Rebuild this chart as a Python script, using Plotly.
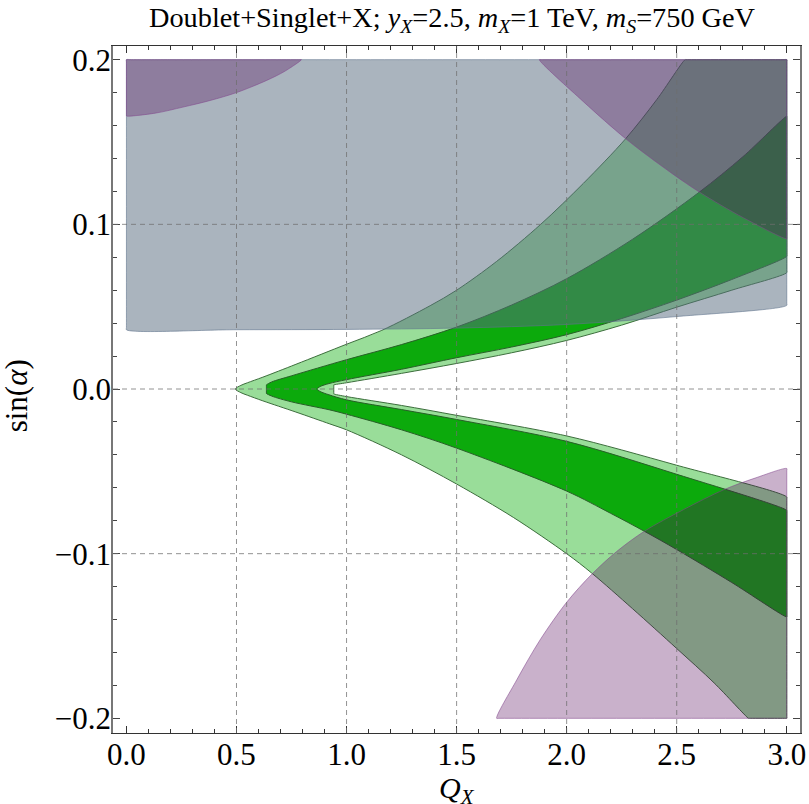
import plotly.graph_objects as go

# ---------------- data ----------------
X_MIN, X_MAX = 0.0, 3.0
Y_MIN, Y_MAX = -0.2, 0.2

# 2-sigma (light green) region boundaries
outer_upper_x = [0.495, 0.52, 0.55, 0.62, 0.77, 1.0, 1.16, 1.38, 1.5, 1.682, 1.882, 2.076, 2.268, 2.409, 2.538]
outer_upper_y = [0.0, 0.0022, 0.0038, 0.0072, 0.0150, 0.0272, 0.0356, 0.0506, 0.060, 0.0775, 0.100, 0.1249, 0.152, 0.1757, 0.2]
outer_lower_x = [0.495, 0.52, 0.55, 0.62, 0.77, 0.924, 1.0, 1.25, 1.5, 1.758, 2.0, 2.114, 2.3, 2.5, 2.67, 2.826]
outer_lower_y = [0.0, -0.0022, -0.0038, -0.0072, -0.0140, -0.0212, -0.0248, -0.040, -0.0577, -0.0780, -0.1000, -0.1118, -0.1335, -0.1576, -0.1785, -0.2]
light_inner_upper_x = [0.942, 1.0, 1.25, 1.5, 1.75, 2.0, 2.25, 2.5, 2.75, 3.0]
light_inner_upper_y = [0.0025, 0.0038, 0.0095, 0.0155, 0.022, 0.0295, 0.0388, 0.0497, 0.0600, 0.0707]
light_inner_lower_x = [0.942, 1.0, 1.25, 1.5, 2.0, 2.5, 3.0]
light_inner_lower_y = [-0.003, -0.0046, -0.010, -0.016, -0.0285, -0.0463, -0.0656]

# 1-sigma (dark green) region boundaries
dark_outer_upper_x = [0.636, 0.66, 0.75, 1.0, 1.25, 1.5, 1.75, 2.0, 2.3, 2.603, 2.8, 3.0]
dark_outer_upper_y = [0.0025, 0.0043, 0.0080, 0.0178, 0.027, 0.0376, 0.051, 0.067, 0.091, 0.1196, 0.141, 0.1656]
dark_outer_lower_x = [0.636, 0.66, 0.75, 0.924, 1.0, 1.25, 1.5, 2.0, 2.2, 2.353, 2.5, 2.75, 3.0]
dark_outer_lower_y = [-0.0027, -0.0043, -0.0078, -0.0127, -0.0153, -0.0248, -0.0359, -0.062, -0.0755, -0.0864, -0.0975, -0.1175, -0.1384]
dark_inner_upper_x = [0.866, 0.88, 0.92, 1.0, 1.25, 1.5, 1.75, 2.0, 2.25, 2.5, 2.75, 3.0]
dark_inner_upper_y = [0.0, 0.0015, 0.0033, 0.0057, 0.012, 0.019, 0.0255, 0.033, 0.0428, 0.054, 0.0665, 0.0806]
dark_inner_lower_x = [0.866, 0.88, 0.92, 1.0, 1.25, 1.5, 2.0, 2.5, 3.0]
dark_inner_lower_y = [0.0, -0.0015, -0.0035, -0.0066, -0.0125, -0.0185, -0.0318, -0.0518, -0.0737]

# grey-blue excluded region (lower edge)
grey_edge_x = [0.0, 0.5, 1.0, 1.5, 2.0, 2.5, 3.0]
grey_edge_y = [0.036, 0.036, 0.0362, 0.037, 0.0392, 0.044, 0.0508]

# purple excluded regions
purple_tl_x = [0.0, 0.13, 0.257, 0.38, 0.5, 0.637, 0.72, 0.795]
purple_tl_y = [0.1658, 0.1675, 0.1712, 0.1752, 0.1800, 0.1874, 0.193, 0.2]
purple_tr_x = [1.876, 2.076, 2.268, 2.439, 2.603, 2.803, 3.0]
purple_tr_y = [0.2, 0.1745, 0.152, 0.1347, 0.1196, 0.104, 0.0913]
purple_bot_x = [1.682, 1.773, 1.879, 2.0, 2.114, 2.227, 2.353, 2.53, 2.715, 2.856, 3.0]
purple_bot_y = [-0.2, -0.1767, -0.1524, -0.1295, -0.1125, -0.0987, -0.0864, -0.0733, -0.0611, -0.0541, -0.0483]

x_ticks = [0.0, 0.5, 1.0, 1.5, 2.0, 2.5, 3.0]
y_ticks = [-0.2, -0.1, 0.0, 0.1, 0.2]
x_grid = [0.5, 1.0, 1.5, 2.0, 2.5]
y_grid = [-0.1, 0.0, 0.1]


# ---------------- polygon construction ----------------
def pts(xs, ys):
    return list(zip(xs, ys))


def guards(a, b, eps=0.008):
    # two helper points on a straight clip edge so the spline keeps the edge straight
    return [(a[0] + eps * (b[0] - a[0]), a[1] + eps * (b[1] - a[1])),
            (b[0] - eps * (b[0] - a[0]), b[1] - eps * (b[1] - a[1]))]


def path(pieces):
    out = []
    for pc in pieces:
        if out and out[-1] != pc[0]:
            out += guards(out[-1], pc[0])
        out += [p for p in pc if not out or p != out[-1]]
    if out[-1] != out[0]:
        out += guards(out[-1], out[0]) + [out[0]]
    return [p[0] for p in out], [p[1] for p in out]


light_x, light_y = path([
    pts(outer_upper_x, outer_upper_y),
    [(X_MAX, Y_MAX)],
    pts(light_inner_upper_x, light_inner_upper_y)[::-1],
    pts(light_inner_lower_x, light_inner_lower_y),
    [(X_MAX, Y_MIN)],
    pts(outer_lower_x, outer_lower_y)[::-1],
])
dark_x, dark_y = path([
    pts(dark_outer_upper_x, dark_outer_upper_y),
    pts(dark_inner_upper_x, dark_inner_upper_y)[::-1],
    pts(dark_inner_lower_x, dark_inner_lower_y),
    pts(dark_outer_lower_x, dark_outer_lower_y)[::-1],
])
grey_x, grey_y = path([pts(grey_edge_x, grey_edge_y), [(X_MAX, Y_MAX)], [(X_MIN, Y_MAX)]])
ptl_x, ptl_y = path([pts(purple_tl_x, purple_tl_y), [(X_MIN, Y_MAX)]])
ptr_x, ptr_y = path([pts(purple_tr_x, purple_tr_y), [(X_MAX, Y_MAX)]])
pb_x, pb_y = path([pts(purple_bot_x, purple_bot_y), [(X_MAX, Y_MIN)]])

fig = go.Figure()


def poly(xs, ys, fill, line, width=1.0):
    fig.add_trace(go.Scatter(x=xs, y=ys, mode="lines", fill="toself",
                             fillcolor=fill, line=dict(color=line, width=width, shape="spline", smoothing=0.9),
                             hoverinfo="skip", showlegend=False))


poly(light_x, light_y, "rgb(153,221,153)", "rgb(60,110,60)")
poly(dark_x, dark_y, "rgb(12,170,12)", "rgb(40,95,40)")
poly(grey_x, grey_y, "rgba(88,108,127,0.51)", "rgba(95,115,140,0.6)")
for xs, ys in [(ptl_x, ptl_y), (ptr_x, ptr_y), (pb_x, pb_y)]:
    poly(xs, ys, "rgba(81,3,87,0.31)", "rgba(130,70,140,0.55)")

# dashed grid lines (drawn above the regions, as in the reference)
shapes = []
for gx in x_grid:
    shapes.append(dict(type="line", xref="x", yref="paper", x0=gx, x1=gx, y0=0, y1=1,
                       line=dict(color="rgba(110,110,110,0.75)", width=1, dash="5px,4px"), layer="above"))
for gy in y_grid:
    shapes.append(dict(type="line", xref="paper", yref="y", x0=0, x1=1, y0=gy, y1=gy,
                       line=dict(color="rgba(110,110,110,0.75)", width=1, dash="5px,4px"), layer="above"))

FONT = "Liberation Serif"

fig.update_layout(
    width=809, height=804,
    margin=dict(l=113, r=9, t=46, b=71),
    paper_bgcolor="white", plot_bgcolor="white",
    shapes=shapes,
    font=dict(family=FONT, color="black", size=30),
    xaxis=dict(range=[-0.061, 3.06], tickvals=x_ticks, tickformat=".1f", automargin=False,
               ticks="inside", ticklen=7, tickcolor="#333", tickwidth=1, ticklabelstandoff=-6,
               minor=dict(dtick=0.1, tick0=0, ticks="inside", ticklen=4, tickcolor="#333", showgrid=False),
               showgrid=False, zeroline=False, showline=True, linecolor="#333", linewidth=1.2,
               mirror="ticks", tickfont=dict(family=FONT, size=31)),
    yaxis=dict(range=[-0.2089, 0.2083], tickvals=y_ticks, tickformat=".1f", automargin=False,
               ticks="inside", ticklen=7, tickcolor="#444", tickwidth=1, ticklabelstandoff=-6,
               minor=dict(dtick=0.02, tick0=0, ticks="inside", ticklen=4, tickcolor="#444", showgrid=False),
               showgrid=False, zeroline=False, showline=True, linecolor="#777", linewidth=1.5,
               mirror="ticks", tickfont=dict(family=FONT, size=31)),
    annotations=[
        dict(text="Doublet+Singlet+X; <i>y</i><sub><i>X</i></sub>=2.5, <i>m</i><sub><i>X</i></sub>=1 TeV, <i>m</i><sub><i>S</i></sub>=750 GeV",
             xref="paper", yref="paper", x=0.4935, y=1.0, yshift=27, xanchor="center", yanchor="middle",
             showarrow=False, font=dict(family=FONT, size=28.3)),
        dict(text="sin(<i>α</i>)", xref="paper", yref="paper", x=0, xshift=-97, y=0.49,
             xanchor="center", yanchor="middle", textangle=-90, showarrow=False,
             font=dict(family=FONT, size=31)),
        dict(text="<i>Q</i><sub><i>X</i></sub>", xref="paper", yref="paper", x=0.5, y=0, yshift=-36,
             xanchor="center", yanchor="top", showarrow=False, font=dict(family=FONT, size=30)),
    ],
)

fig.write_html("out.html", config={"displayModeBar": False},
               post_script="document.body.style.margin='0px';document.body.style.overflow='hidden';")
